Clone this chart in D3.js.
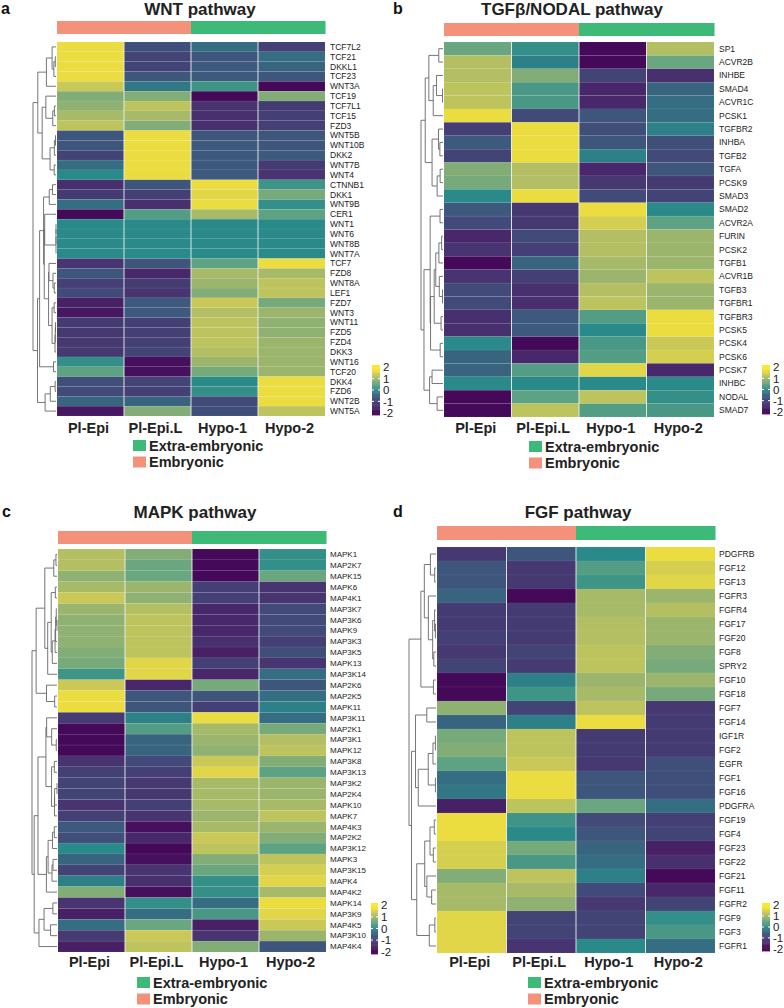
<!DOCTYPE html>
<html><head><meta charset="utf-8">
<script src="https://cdn.jsdelivr.net/npm/d3@7"></script>
<style>body{margin:0;background:#fff} svg{display:block} text{font-family:"Liberation Sans",Arial,sans-serif}</style>
</head><body><svg id="c" width="784" height="1008"></svg>
<script>
// ---------------- DATA ----------------
const samples = ["Pl-Epi","Pl-Epi.L","Hypo-1","Hypo-2"];
const sampleGroups = ["Embryonic","Embryonic","Extra-embryonic","Extra-embryonic"];
const legendGroups = ["Extra-embryonic","Embryonic"];
const colorbarTicks = [2,1,0,-1,-2];

const wntGenes = ["TCF7L2","TCF21","DKKL1","TCF23","WNT3A","TCF19","TCF7L1","TCF15","FZD3","WNT5B","WNT10B","DKK2","WNT7B","WNT4","CTNNB1","DKK1","WNT9B","CER1","WNT1","WNT6","WNT8B","WNT7A","TCF7","FZD8","WNT8A","LEF1","FZD7","WNT3","WNT11","FZD5","FZD4","DKK3","WNT16","TCF20","DKK4","FZD6","WNT2B","WNT5A"];
const wntValues = [
[1.7,-0.7,-0.3,-1.0],[1.7,-0.9,-0.6,-0.3],[1.7,-0.9,-0.5,-0.4],[1.7,-0.6,-0.5,-0.6],[1.4,-0.2,0.2,-1.9],
[0.8,0.8,-1.9,0.8],[0.9,1.3,-1.3,-1.1],[1.1,1.1,-1.4,-1.0],[1.3,0.8,-1.4,-1.0],
[-0.6,1.7,-0.6,-0.6],[-0.6,1.7,-0.5,-0.6],[-0.9,1.7,-0.5,-0.5],[-0.3,1.7,-0.5,-1.1],[0.0,1.7,-0.5,-1.3],
[-1.4,-0.6,1.7,0.2],[-1.1,-1.0,1.6,0.7],[-0.3,-1.4,1.7,0.1],[-1.9,0.4,1.1,0.5],
[0,0,0,0],[0,0,0,0],[0,0,0,0],[0,0,0,0],
[-1.3,-0.6,0.5,1.7],[-0.6,-1.5,1.1,1.1],[-1.0,-1.1,1.0,1.3],[-0.8,-1.3,0.8,1.3],
[-1.6,-0.5,1.4,0.7],[-1.7,-0.5,1.2,1.0],[-1.1,-1.0,1.3,0.9],[-1.2,-1.0,1.3,0.9],[-1.2,-1.0,1.3,1.0],[-1.2,-0.9,1.2,1.0],
[0.1,-1.8,1.0,1.0],[0.5,-1.8,0.7,1.0],
[-0.7,-0.9,0.0,1.7],[-0.8,-1.0,0.1,1.7],[-0.4,-0.4,-0.8,1.7],[-1.7,0.8,-0.7,1.3]];

const tgfGenes = ["SP1","ACVR2B","INHBE","SMAD4","ACVR1C","PCSK1","TGFBR2","INHBA","TGFB2","TGFA","PCSK9","SMAD3","SMAD2","ACVR2A","FURIN","PCSK2","TGFB1","ACVR1B","TGFB3","TGFBR1","TGFBR3","PCSK5","PCSK4","PCSK6","PCSK7","INHBC","NODAL","SMAD7"];
const tgfValues = [
[0.6,0.1,-1.9,1.2],[1.2,-0.1,-1.9,0.6],[1.2,0.8,-0.9,-1.4],[1.3,0.3,-1.5,-0.4],[1.3,0.3,-1.5,-0.3],[1.7,-0.8,-0.6,-0.3],
[-1.0,1.7,-0.7,-0.1],[-0.5,1.7,-0.6,-0.7],[-0.9,1.7,-0.1,-0.8],[0.8,1.2,-1.5,-0.6],[0.7,1.2,-1.2,-1.1],[0.0,1.7,-0.8,-0.9],
[-0.5,-1.2,1.7,0.0],[-0.8,-1.2,1.5,0.5],[-1.5,-0.8,1.2,1.0],[-1.3,-1.0,1.2,1.0],[-1.9,-0.4,1.1,1.0],[-1.3,-1.0,1.0,1.3],
[-0.8,-1.4,1.2,1.0],[-0.8,-1.4,1.3,1.0],[-1.4,-0.5,0.4,1.7],[-1.4,-0.5,0.0,1.7],[0.0,-1.9,0.3,1.4],[-0.4,-1.5,0.4,1.5],
[-0.4,0.4,1.6,-1.5],[0,0,0,0],[-1.9,0.5,1.3,0.1],[-1.9,1.3,0.4,0.3]];

const mapkGenes = ["MAPK1","MAP2K7","MAPK15","MAPK6","MAP4K1","MAP3K7","MAP3K6","MAPK9","MAP3K3","MAP3K5","MAPK13","MAP3K14","MAP2K6","MAP2K5","MAPK11","MAP3K11","MAP2K1","MAP3K1","MAPK12","MAP3K8","MAP3K13","MAP3K2","MAP2K4","MAPK10","MAPK7","MAP4K3","MAP2K2","MAP3K12","MAPK3","MAP3K15","MAPK4","MAP4K2","MAPK14","MAP3K9","MAP4K5","MAP3K10","MAP4K4"];
const mapkValues = [
[1.2,0.8,-1.9,0.1],[1.2,0.6,-1.9,0.1],[0.9,0.6,-1.9,0.6],[1.1,1.0,-1.0,-1.3],[1.4,0.9,-1.0,-1.3],
[1.0,1.2,-1.5,-0.8],[0.9,1.3,-1.5,-0.8],[0.9,1.3,-1.5,-0.8],[0.9,1.3,-1.4,-1.0],[0.8,1.3,-1.6,-0.7],[0.7,1.6,-1.0,-1.3],[0.2,1.6,-1.5,-0.3],
[1.4,-1.5,0.7,-0.6],[1.7,-0.6,-0.6,-0.3],[1.7,-0.6,-1.0,-0.1],
[-1.1,-0.1,1.7,-0.3],[-1.9,0.4,1.1,0.7],[-1.9,-0.4,1.0,1.2],[-1.9,-0.4,0.9,1.3],[-1.3,-0.8,1.4,0.8],[-1.0,-1.0,1.6,0.5],
[-0.9,-1.2,1.1,1.0],[-0.9,-1.2,1.1,1.0],[-1.3,-1.0,1.1,1.1],[-1.0,-1.3,1.0,1.3],[-0.5,-1.8,1.1,1.0],[-0.7,-1.5,1.4,0.8],[0.0,-1.9,1.3,0.5],
[-0.4,-1.8,0.8,1.3],[-0.9,-1.3,0.6,1.5],[-0.1,-1.4,0.1,1.6],[0.8,-1.8,0.1,1.1],
[-1.3,0.1,-0.3,1.7],[-1.6,-0.3,0.3,1.6],[-0.3,0.6,-1.6,1.4],[-1.1,1.4,-1.3,1.0],[-1.6,1.3,0.8,-0.6]];

const fgfGenes = ["PDGFRB","FGF12","FGF13","FGFR3","FGFR4","FGF17","FGF20","FGF8","SPRY2","FGF10","FGF18","FGF7","FGF14","IGF1R","FGF2","EGFR","FGF1","FGF16","PDGFRA","FGF19","FGF4","FGF23","FGF22","FGF21","FGF11","FGFR2","FGF9","FGF3","FGFR1"];
const fgfValues = [
[-1.2,-0.6,0.0,1.7],[-0.6,-1.2,0.4,1.5],[-0.6,-1.2,0.2,1.6],
[-0.4,-1.9,1.1,1.0],[-1.1,-1.1,1.1,1.2],[-1.1,-1.1,1.2,1.0],[-1.0,-1.1,1.2,1.0],[-1.2,-0.9,1.3,0.8],[-0.9,-1.1,1.3,0.7],
[-1.9,-0.1,1.0,1.0],[-1.9,0.2,1.1,0.7],
[0.9,-0.9,1.3,-1.2],[-0.4,-0.1,1.7,-1.1],
[0.7,1.3,-1.1,-1.1],[0.8,1.3,-1.1,-1.1],[0.5,1.4,-1.2,-0.7],[-0.3,1.7,-0.6,-0.7],[-0.2,1.7,-0.6,-0.7],[-1.6,1.3,0.6,-0.3],
[1.7,0.2,-0.8,-1.0],[1.7,0.0,-0.6,-0.9],[1.5,0.7,-0.4,-1.6],[1.5,0.3,-0.3,-1.4],
[0.8,1.3,-0.1,-1.9],[1.1,1.1,-0.8,-1.5],[1.1,0.9,-1.2,-0.9],
[1.6,-0.9,-0.9,0.1],[1.6,-0.9,-0.9,0.3],[1.6,-1.3,0.0,-0.3]];

// ---------------- STYLE / LAYOUT ----------------
const colorStops = [[-2,"#440154"],[-1.8,"#46105e"],[-1.4,"#48306e"],[-1,"#443f74"],[-0.5,"#3d5a7e"],[0,"#2a8a8a"],[0.5,"#5ea284"],[1,"#9bb56d"],[1.4,"#cac957"],[1.75,"#f0df3b"],[2,"#fde725"]];
const color = d3.scaleLinear().domain(colorStops.map(d=>d[0])).range(colorStops.map(d=>d[1])).clamp(true);
const groupColor = d3.scaleOrdinal().domain(["Embryonic","Extra-embryonic"]).range(["#f4917a","#3dba78"]);

const panels = [
 {letter:"a",title:"WNT pathway",genes:wntGenes,values:wntValues,lx:1,titleX:200,titleY:15,barY:[21,34],x:[57,325],y:[42,416],labX:330,labFs:8.5,root:33,colY:433,legX:133,legY:440,cb:[372,380,365,415],cbLx:383},
 {letter:"b",title:"TGFβ/NODAL pathway",genes:tgfGenes,values:tgfValues,lx:393,titleX:572,titleY:15,barY:[23,36],x:[444,714],y:[42,417],labX:719,labFs:8.5,root:421,colY:433,legX:529,legY:441,cb:[762,770,365,414],cbLx:773},
 {letter:"c",title:"MAPK pathway",genes:mapkGenes,values:mapkValues,lx:2,titleX:195,titleY:518,barY:[531,544],x:[58,326],y:[549,952],labX:330,labFs:8,root:32,colY:967,legX:137,legY:977,cb:[371,378,903,954],cbLx:381},
 {letter:"d",title:"FGF pathway",genes:fgfGenes,values:fgfValues,lx:393,titleX:578,titleY:518,barY:[526,540],x:[437,715],y:[547,953],labX:719,labFs:8.5,root:409,colY:967,legX:528,legY:977,cb:[762,770,903,951],cbLx:773}
];

const svg = d3.select("#c");

function buildTree(values){
  const dist=(a,b)=>Math.sqrt(d3.sum(values[a],(x,k)=>(x-values[b][k])**2));
  let clusters = values.map((v,i)=>({leaf:true,index:i,members:[i],height:0}));
  while(clusters.length>1){
    let best=0,bd=Infinity;
    for(let i=0;i<clusters.length-1;i++){
      const A=clusters[i].members,B=clusters[i+1].members;
      let m=0; for(const a of A) for(const b of B) m=Math.max(m,dist(a,b));
      if(m<bd){bd=m;best=i;}
    }
    const A=clusters[best],B=clusters[best+1];
    clusters.splice(best,2,{leaf:false,children:[A,B],members:A.members.concat(B.members),height:Math.max(bd,A.height,B.height)});
  }
  return clusters[0];
}

panels.forEach(p=>{
  const g = svg.append("g");
  const xs = d3.scaleBand().domain(samples).range(p.x);
  const ys = d3.scaleBand().domain(p.genes).range(p.y);
  g.append("text").attr("x",p.lx).attr("y",p.titleY-1).attr("font-size",16).attr("font-weight","bold").attr("fill","#111").text(p.letter);
  g.append("text").attr("x",p.titleX).attr("y",p.titleY).attr("text-anchor","middle").attr("font-size",17).attr("font-weight","bold").attr("fill","#222").text(p.title);
  g.selectAll(".ann").data(samples).enter().append("rect")
    .attr("x",d=>xs(d)).attr("width",xs.bandwidth()+0.5).attr("y",p.barY[0]).attr("height",p.barY[1]-p.barY[0])
    .attr("fill",(d,i)=>groupColor(sampleGroups[i]));
  const cells=[];
  p.values.forEach((row,r)=>row.forEach((v,c)=>cells.push({gene:p.genes[r],s:samples[c],v})));
  g.selectAll(".cell").data(cells).enter().append("rect")
    .attr("x",d=>xs(d.s)).attr("y",d=>ys(d.gene)).attr("width",xs.bandwidth()).attr("height",ys.bandwidth())
    .attr("fill",d=>color(d.v)).attr("stroke","#fff").attr("stroke-opacity",0.1).attr("stroke-width",0.5);
  g.selectAll(".sep").data(samples.slice(1)).enter().append("line")
    .attr("x1",d=>xs(d)).attr("x2",d=>xs(d)).attr("y1",p.y[0]).attr("y2",p.y[1])
    .attr("stroke","#f2f2f2").attr("stroke-width",1).attr("opacity",0.85);
  g.selectAll(".rl").data(p.genes).enter().append("text")
    .attr("x",p.labX).attr("y",d=>ys(d)+ys.bandwidth()/2).attr("dy","0.35em")
    .attr("font-size",p.labFs).attr("fill","#222").text(d=>d);
  g.selectAll(".cl").data(samples).enter().append("text")
    .attr("x",d=>xs(d)+xs.bandwidth()/2-2).attr("y",p.colY).attr("text-anchor","middle")
    .attr("font-size",14.5).attr("font-weight","bold").attr("fill","#222").text(d=>d);
  const tree = buildTree(p.values);
  const hx = d3.scaleLinear().domain([0,tree.height]).range([p.x[0]-1,p.root]);
  const path = d3.path();
  (function walk(n){
    if(n.leaf){ n.y = ys(p.genes[n.index])+ys.bandwidth()/2; return; }
    n.children.forEach(walk);
    const [a,b]=n.children;
    n.y=(a.y+b.y)/2;
    path.moveTo(hx(a.height),a.y); path.lineTo(hx(n.height),a.y); path.lineTo(hx(n.height),b.y); path.lineTo(hx(b.height),b.y);
  })(tree);
  g.append("path").attr("d",path.toString()).attr("fill","none").attr("stroke","#666").attr("stroke-width",0.9);
  legendGroups.forEach((lg,i)=>{
    const yy = p.legY + i*16.5;
    g.append("rect").attr("x",p.legX).attr("y",yy).attr("width",13).attr("height",11).attr("fill",groupColor(lg));
    g.append("text").attr("x",p.legX+16).attr("y",yy+10.5).attr("font-size",14.5).attr("font-weight","bold").attr("fill","#222").text(lg);
  });
  const cy = d3.scaleLinear().domain([2.2,-2.2]).range([p.cb[2],p.cb[3]]);
  const steps = d3.range(-2.2,2.2,0.05);
  g.selectAll(".cbr").data(steps).enter().append("rect")
    .attr("x",p.cb[0]).attr("width",p.cb[1]-p.cb[0]).attr("y",d=>cy(d+0.05)).attr("height",d=>cy(d)-cy(d+0.05)+0.4)
    .attr("fill",d=>color(d+0.025));
  g.selectAll(".cbt").data(colorbarTicks.filter(t=>Math.abs(t)<2)).enter().append("g").each(function(t){
    d3.select(this).append("line").attr("x1",p.cb[0]).attr("x2",p.cb[0]+2).attr("y1",cy(t)).attr("y2",cy(t)).attr("stroke","#fff");
    d3.select(this).append("line").attr("x1",p.cb[1]-2).attr("x2",p.cb[1]).attr("y1",cy(t)).attr("y2",cy(t)).attr("stroke","#fff");
  });
  g.selectAll(".cbl").data(colorbarTicks).enter().append("text")
    .attr("x",p.cbLx).attr("y",d=>cy(d)).attr("dy","0.36em").attr("font-size",11.5).attr("fill","#222").text(d=>d);
});
</script></body></html>
